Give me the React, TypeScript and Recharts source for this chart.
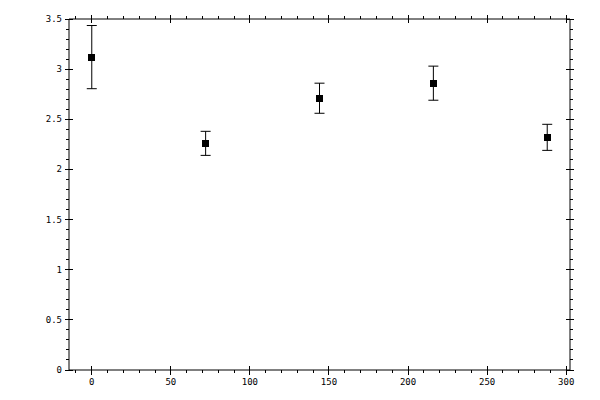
import React from 'react';
import {
  ScatterChart,
  Scatter,
  XAxis,
  YAxis,
  ZAxis,
  ErrorBar,
} from 'recharts';

const xValues = [0, 72, 144, 216, 288];
const yMeans = [3.12, 2.26, 2.71, 2.86, 2.32];
const yErrors = [0.315, 0.12, 0.15, 0.17, 0.13];

const xMajorTicks = [0, 50, 100, 150, 200, 250, 300];
const yMajorTicks = [0, 0.5, 1, 1.5, 2, 2.5, 3, 3.5];

// minor ticks every 10 on x, every 0.1 on y
const xAllTicks = Array.from({ length: 32 }, (_, i) => -10 + i * 10);
const yAllTicks = Array.from({ length: 36 }, (_, i) => i / 10);

const data = xValues.map((x, i) => ({ x, y: yMeans[i], err: yErrors[i] }));

const FONT = '"DejaVu Sans Mono", monospace';
const isMajor = (list: number[], v: number) =>
  list.some((m) => Math.abs(m - v) < 1e-6);

const BottomTick = (props: any) => {
  const { x, y, payload } = props;
  const major = isMajor(xMajorTicks, payload.value);
  return (
    <g shapeRendering="crispEdges">
      <line x1={x} x2={x} y1={major ? y - 4 : y} y2={y + (major ? 5 : 3)} stroke="#000" />
      {major && (
        <text x={x} y={y + 15} textAnchor="middle" fontSize={9} fontFamily={FONT} fill="#000">
          {payload.value}
        </text>
      )}
    </g>
  );
};

const TopTick = (props: any) => {
  const { x, y, payload } = props;
  const major = isMajor(xMajorTicks, payload.value);
  return (
    <line
      shapeRendering="crispEdges"
      x1={x}
      x2={x}
      y1={y - (major ? 4 : 3)}
      y2={major ? y + 4 : y}
      stroke="#000"
    />
  );
};

const LeftTick = (props: any) => {
  const { x, y, payload } = props;
  const major = isMajor(yMajorTicks, payload.value);
  return (
    <g shapeRendering="crispEdges">
      <line x1={x - (major ? 4 : 3)} x2={major ? x + 4 : x} y1={y} y2={y} stroke="#000" />
      {major && (
        <text x={x - 7} y={y + 3} textAnchor="end" fontSize={9} fontFamily={FONT} fill="#000">
          {payload.value}
        </text>
      )}
    </g>
  );
};

const RightTick = (props: any) => {
  const { x, y, payload } = props;
  const major = isMajor(yMajorTicks, payload.value);
  return (
    <line
      shapeRendering="crispEdges"
      x1={major ? x - 4 : x}
      x2={x + (major ? 4 : 3)}
      y1={y}
      y2={y}
      stroke="#000"
    />
  );
};

const SquareMarker = (props: any) => {
  const { cx, cy } = props;
  return <rect x={cx - 3.5} y={cy - 3.5} width={7} height={7} fill="#000" shapeRendering="crispEdges" />;
};

export default function App() {
  return (
    <ScatterChart
      width={584}
      height={384}
      margin={{ top: 6, right: 17, left: 0, bottom: 0 }}
    >
      <XAxis
        xAxisId="bottom"
        type="number"
        dataKey="x"
        domain={[-14.4, 302.4]}
        allowDataOverflow
        ticks={xAllTicks}
        interval={0}
        tickSize={0}
        tickMargin={0}
        tickLine={false}
        tick={BottomTick}
        axisLine={{ stroke: '#000' }}
        height={22}
      />
      <XAxis
        xAxisId="top"
        orientation="top"
        type="number"
        dataKey="x"
        domain={[-14.4, 302.4]}
        allowDataOverflow
        ticks={xAllTicks}
        interval={0}
        tickSize={0}
        tickMargin={0}
        tickLine={false}
        tick={TopTick}
        axisLine={{ stroke: '#000' }}
        height={5}
      />
      <YAxis
        yAxisId="left"
        type="number"
        dataKey="y"
        domain={[0, 3.5]}
        allowDataOverflow
        ticks={yAllTicks}
        interval={0}
        tickSize={0}
        tickMargin={0}
        tickLine={false}
        tick={LeftTick}
        axisLine={{ stroke: '#000' }}
        width={61}
      />
      <YAxis
        yAxisId="right"
        orientation="right"
        type="number"
        dataKey="y"
        domain={[0, 3.5]}
        allowDataOverflow
        ticks={yAllTicks}
        interval={0}
        tickSize={0}
        tickMargin={0}
        tickLine={false}
        tick={RightTick}
        axisLine={{ stroke: '#000' }}
        width={5}
      />
      <ZAxis range={[49, 49]} />
      <Scatter
        data={data}
        xAxisId="bottom"
        yAxisId="left"
        shape={SquareMarker}
        isAnimationActive={false}
      >
        <ErrorBar dataKey="err" direction="y" width={5} stroke="#000" strokeWidth={1} />
      </Scatter>
      <Scatter
        data={data}
        xAxisId="top"
        yAxisId="right"
        shape={() => null}
        isAnimationActive={false}
      />
    </ScatterChart>
  );
}
